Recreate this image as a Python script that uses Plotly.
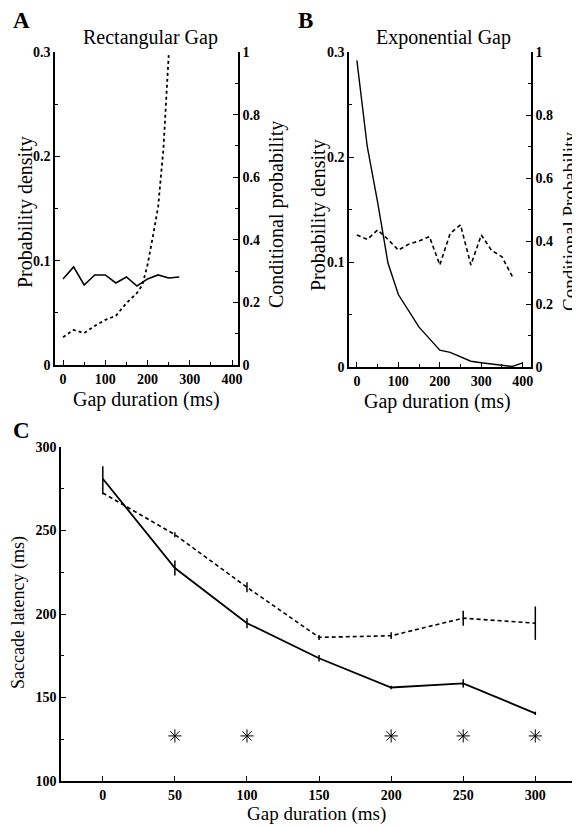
import plotly.graph_objects as go

W, H = 580, 828
OFF = 8  # page body margin offset of the rendered figure

# ---------------- data ----------------
# Panel A: Rectangular gap
a_gap = [0, 25, 50, 75, 100, 125, 150, 175, 200, 225, 250, 275]
a_density = [0.0825, 0.094, 0.0767, 0.0863, 0.0863, 0.0786, 0.0844, 0.0757, 0.0825, 0.0863, 0.0834, 0.0844]
a_cond_gap = [0, 25, 50, 75, 100, 125, 150, 175, 187.5, 200, 212.5, 225, 237.5, 250]
a_cond = [0.089, 0.112, 0.102, 0.125, 0.144, 0.157, 0.198, 0.23, 0.255, 0.32, 0.41, 0.505, 0.69, 0.99]

# Panel B: Exponential gap
b_gap = [0, 25, 50, 75, 100, 125, 150, 175, 200, 225, 250, 275, 300, 325, 350, 375, 400]
b_density = [0.292, 0.21, 0.157, 0.099, 0.069, 0.053, 0.038, 0.027, 0.016, 0.014, 0.010,
             0.0055, 0.004, 0.003, 0.002, 0.0005, 0.004]
b_cond_gap = [0, 25, 50, 75, 100, 125, 150, 175, 200, 225, 250, 275, 300, 325, 350, 375]
b_cond = [0.419, 0.405, 0.435, 0.405, 0.371, 0.39, 0.40, 0.414, 0.324, 0.424, 0.451,
          0.324, 0.419, 0.37, 0.35, 0.287]

# Panel C: saccade latency
c_gap = [0, 50, 100, 150, 200, 250, 300]
c_solid = [281, 227.5, 194.5, 173.5, 156, 158.5, 140.5]
c_solid_err = [7.5, 4.5, 3, 2, 1, 2.5, 1]
c_dashed = [272.5, 247.5, 216, 186, 187, 197.5, 194.5]
c_dashed_err = [1, 1.5, 3, 1.5, 2, 4.5, 10]
c_star_gap = [50, 100, 200, 250, 300]
c_star_y = [127, 127, 127, 127, 127]

prob_ticks = [0, 0.1, 0.2, 0.3]
cond_ticks = [0, 0.2, 0.4, 0.6, 0.8, 1]
cond_labels = ["0", "0.2", "0.4", "0.6", "0.8", "1"]
ab_x_ticks = [0, 100, 200, 300, 400]
c_x_ticks = [0, 50, 100, 150, 200, 250, 300]
c_y_ticks = [100, 150, 200, 250, 300]

FONT = "Liberation Serif"
BLACK = "black"


def fx(p):
    return (p - OFF) / W


def fy(p):
    return 1 - (p - OFF) / H


def xd(a, b):
    return [fx(a), fx(b)]


def yd(top, bottom):
    return [fy(bottom), fy(top)]


fig = go.Figure()

# Panel A traces
fig.add_trace(go.Scatter(x=a_gap, y=a_density, mode="lines", xaxis="x", yaxis="y",
                         line=dict(color=BLACK, width=1.6), showlegend=False))
fig.add_trace(go.Scatter(x=a_cond_gap, y=a_cond, mode="lines", xaxis="x", yaxis="y2",
                         line=dict(color=BLACK, width=1.8, dash="dot"), showlegend=False))
# Panel B traces
fig.add_trace(go.Scatter(x=b_gap, y=b_density, mode="lines", xaxis="x2", yaxis="y3",
                         line=dict(color=BLACK, width=1.4), showlegend=False))
fig.add_trace(go.Scatter(x=b_cond_gap, y=b_cond, mode="lines", xaxis="x2", yaxis="y4",
                         line=dict(color=BLACK, width=1.6, dash="4px,3px"), showlegend=False))
# Panel C traces
fig.add_trace(go.Scatter(x=c_gap, y=c_dashed, mode="lines", xaxis="x3", yaxis="y5",
                         line=dict(color=BLACK, width=1.6, dash="4px,3px"),
                         error_y=dict(type="data", array=c_dashed_err, width=0, thickness=1.5, color=BLACK),
                         showlegend=False))
fig.add_trace(go.Scatter(x=c_gap, y=c_solid, mode="lines", xaxis="x3", yaxis="y5",
                         line=dict(color=BLACK, width=1.8),
                         error_y=dict(type="data", array=c_solid_err, width=0, thickness=1.5, color=BLACK),
                         showlegend=False))
fig.add_trace(go.Scatter(x=c_star_gap, y=c_star_y, mode="markers", xaxis="x3", yaxis="y5",
                         marker=dict(symbol="asterisk-open", size=11, color=BLACK,
                                     line=dict(color=BLACK, width=1)),
                         showlegend=False))

tickfont = dict(family=FONT, size=14, color=BLACK, weight="bold")
common = dict(showgrid=False, zeroline=False, showline=True, linecolor=BLACK, linewidth=1.5,
              ticks="inside", tickcolor=BLACK, tickwidth=1.2, ticklen=5, tickfont=tickfont,
              automargin=False)

fig.update_layout(
    width=W, height=H, margin=dict(l=0, r=0, t=0, b=0, autoexpand=False),
    paper_bgcolor="white", plot_bgcolor="white",
    xaxis=dict(domain=xd(55, 238), range=[-19, 414], anchor="y", tickvals=ab_x_ticks,
               minor=dict(dtick=50, ticks="inside", ticklen=3, tickcolor=BLACK), **common),
    yaxis=dict(domain=yd(52, 365), range=[0, 0.3], anchor="x", tickvals=prob_ticks,
               minor=dict(dtick=0.05, ticks="inside", ticklen=3, tickcolor=BLACK), **common),
    yaxis2=dict(domain=yd(52, 365), range=[0, 1], anchor="x", overlaying="y", side="right",
                tickvals=cond_ticks, ticktext=cond_labels,
                minor=dict(dtick=0.1, ticks="inside", ticklen=3, tickcolor=BLACK), **common),
    xaxis2=dict(domain=xd(349, 531), range=[-19, 420], anchor="y3", tickvals=ab_x_ticks,
                minor=dict(dtick=50, ticks="inside", ticklen=3, tickcolor=BLACK), **common),
    yaxis3=dict(domain=yd(52, 367), range=[0, 0.3], anchor="x2", tickvals=prob_ticks,
                minor=dict(dtick=0.05, ticks="inside", ticklen=3, tickcolor=BLACK), **common),
    yaxis4=dict(domain=yd(52, 367), range=[0, 1], anchor="x2", overlaying="y3", side="right",
                tickvals=cond_ticks, ticktext=cond_labels,
                minor=dict(dtick=0.1, ticks="inside", ticklen=3, tickcolor=BLACK), **common),
    xaxis3=dict(domain=xd(61, 580), range=[-29, 331], anchor="y5", tickvals=c_x_ticks, **common),
    yaxis5=dict(domain=yd(447, 781), range=[100, 300], anchor="x3", tickvals=c_y_ticks,
                minor=dict(dtick=25, ticks="inside", ticklen=3, tickcolor=BLACK), **common),
)


def ann(text, x, y, size, bold=False, angle=0):
    fig.add_annotation(text=text, x=fx(x), y=fy(y), xref="paper", yref="paper",
                       showarrow=False, textangle=angle, xanchor="center", yanchor="middle",
                       font=dict(family=FONT, size=size, color=BLACK,
                                 weight="bold" if bold else "normal"))


ann("A", 21, 21, 23, True)
ann("B", 305, 21, 23, True)
ann("C", 21, 430, 23, True)
ann("Rectangular Gap", 150, 37, 20)
ann("Exponential Gap", 443, 37, 20)
ann("Probability density", 25, 212, 20, angle=-90)
ann("Conditional probability", 276, 215, 20, angle=-90)
ann("Probability density", 318, 215, 20, angle=-90)
ann("Conditional Probability", 569, 222, 19, angle=-90)
ann("Gap duration (ms)", 146, 399, 20)
ann("Gap duration (ms)", 437, 401, 20)
ann("Gap duration (ms)", 316, 814, 19)
ann("Saccade latency (ms)", 18, 613, 18, angle=-90)

fig.write_html("out.html")
